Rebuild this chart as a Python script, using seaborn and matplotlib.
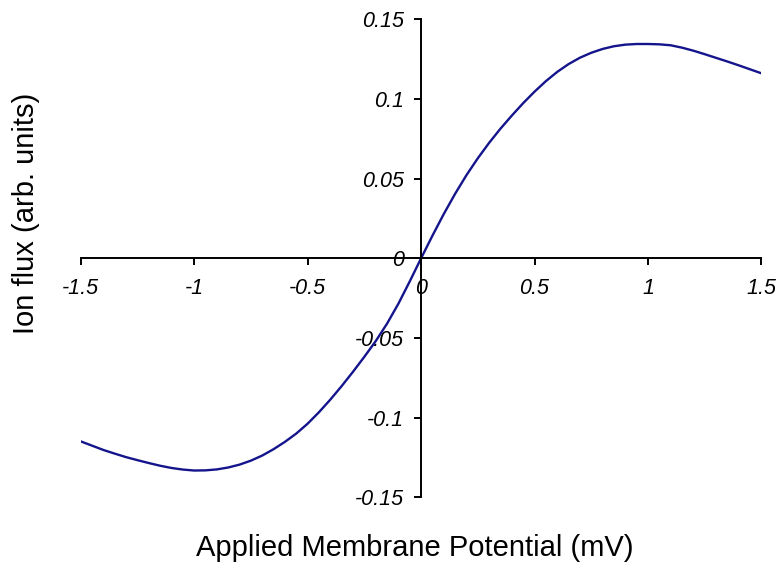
import numpy as np
import pandas as pd
import matplotlib
matplotlib.use("Agg")
import matplotlib.pyplot as plt
import seaborn as sns

# Data
potential = [-1.5, -1.45, -1.4, -1.35, -1.3, -1.25, -1.2, -1.15, -1.1, -1.05,
             -1.0, -0.95, -0.9, -0.85, -0.8, -0.75, -0.7, -0.65, -0.6, -0.55,
             -0.5, -0.45, -0.4, -0.35, -0.3, -0.25, -0.2, -0.15, -0.1, -0.05,
             0.0, 0.05, 0.1, 0.15, 0.2, 0.25, 0.3, 0.35, 0.4, 0.45,
             0.5, 0.55, 0.6, 0.65, 0.7, 0.75, 0.8, 0.85, 0.9, 0.95,
             1.0, 1.05, 1.1, 1.15, 1.2, 1.25, 1.3, 1.35, 1.4, 1.45, 1.5]
ion_flux = [-0.1149, -0.1176, -0.1203, -0.1226, -0.1248, -0.1267, -0.1285, -0.1302,
            -0.1316, -0.1326, -0.1332, -0.1331, -0.1325, -0.1313, -0.1295, -0.1270,
            -0.1238, -0.1198, -0.1152, -0.1100, -0.1038, -0.0966, -0.0887, -0.0802,
            -0.0712, -0.0618, -0.0520, -0.0410, -0.0285, -0.0145,
            0.0, 0.0142, 0.0278, 0.0405, 0.0522, 0.0628, 0.0725, 0.0814, 0.0896,
            0.0974, 0.1046, 0.1112, 0.1170, 0.1219, 0.1259, 0.1290, 0.1314,
            0.1331, 0.1341, 0.1345, 0.1345, 0.1343, 0.1337, 0.1322, 0.1303,
            0.1281, 0.1258, 0.1235, 0.1211, 0.1186, 0.1161]
x_ticks = [-1.5, -1, -0.5, 0, 0.5, 1, 1.5]
x_tick_labels = ["-1.5", "-1", "-0.5", "0", "0.5", "1", "1.5"]
y_ticks = [-0.15, -0.1, -0.05, 0, 0.05, 0.1, 0.15]
y_tick_labels = ["-0.15", "-0.1", "-0.05", "0", "0.05", "0.1", "0.15"]

df = pd.DataFrame({"Potential": potential, "Flux": ion_flux})

sns.set_style("white")
plt.rcParams["font.family"] = ["Liberation Sans", "DejaVu Sans"]

fig = plt.figure(figsize=(7.79, 5.68), dpi=100)
ax = fig.add_axes([0.1036, 0.1245, 0.9775 - 0.1036, 0.966 - 0.1245])

sns.lineplot(data=df, x="Potential", y="Flux", ax=ax, color="#14148c",
             linewidth=1.7, sort=True)

ax.set_xlim(-1.5, 1.5)
ax.set_ylim(-0.15, 0.15)

for side in ["top", "right"]:
    ax.spines[side].set_visible(False)
ax.spines["left"].set_position(("data", 0))
ax.spines["bottom"].set_position(("data", 0))
for side in ["left", "bottom"]:
    ax.spines[side].set_linewidth(1.4)
    ax.spines[side].set_color("black")

ax.set_xticks(x_ticks)
ax.set_xticklabels(x_tick_labels, fontstyle="italic", fontsize=15.5, color="black")
ax.set_yticks(y_ticks)
ax.set_yticklabels(y_tick_labels, fontstyle="italic", fontsize=15.5, color="black")
ax.tick_params(axis="x", which="major", bottom=True, direction="out", length=5,
               width=1.4, pad=9, color="black", labelcolor="black")
ax.tick_params(axis="y", which="major", left=True, direction="out", length=5,
               width=1.4, pad=7, color="black", labelcolor="black")
ax.set_xlabel("")
ax.set_ylabel("")
ax.set_facecolor("white")
fig.patch.set_facecolor("white")

fig.text(415 / 779, 1 - 548 / 568, "Applied Membrane Potential (mV)",
         ha="center", va="center", fontsize=21, color="black")
fig.text(26 / 779, 1 - 213 / 568, "Ion flux (arb. units)", rotation=90,
         ha="center", va="center", fontsize=21, color="black")

fig.savefig("out.png", dpi=100, facecolor="white")
